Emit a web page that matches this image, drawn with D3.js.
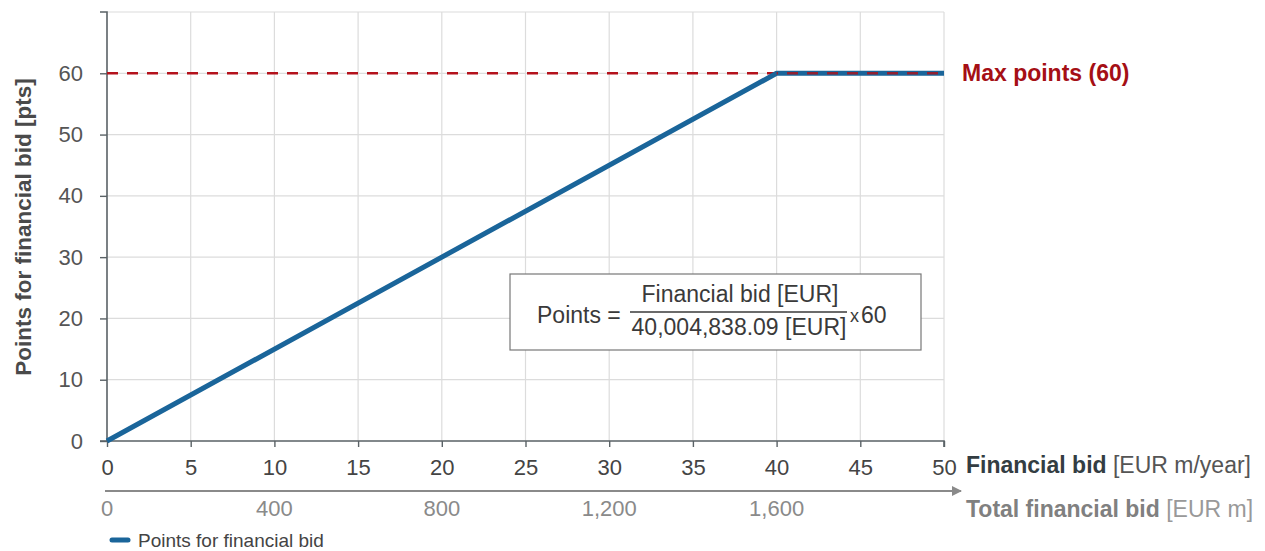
<!DOCTYPE html>
<html>
<head>
<meta charset="utf-8">
<script src="https://cdn.jsdelivr.net/npm/d3@7"></script>
<style>
  body { margin: 0; background: #fff; }
  svg { display: block; font-family: "Liberation Sans", Arial, sans-serif; }
</style>
</head>
<body>
<svg id="chart" width="1265" height="551"></svg>
<script>
// Scoring curve: points awarded for the annual financial bid
const bidTicks = [0, 5, 10, 15, 20, 25, 30, 35, 40, 45, 50];        // EUR m / year
const totalTicks = [0, 400, 800, 1200, 1600];                        // EUR m total
const pointTicks = [0, 10, 20, 30, 40, 50, 60];
const gridPoints = [0, 10, 20, 30, 40, 50, 60, 70];
const curveBid = [0, 40, 50];
const curvePoints = [0, 60, 60];
const maxPoints = 60;
const yearsTotal = 40;   // total bid = annual bid x 40

const svg = d3.select("#chart");
const x = d3.scaleLinear().domain([0, 50]).range([107, 944]);
const y = d3.scaleLinear().domain([0, 70]).range([441, 12]);
const FONT = "Liberation Sans, Arial, sans-serif";

// Gridlines
const grid = svg.append("g");
grid.selectAll("line.v").data(bidTicks.slice(1)).join("line")
  .attr("x1", d => x(d)).attr("x2", d => x(d))
  .attr("y1", y(70)).attr("y2", y(0))
  .attr("stroke", "#dcdcdc").attr("stroke-width", 1.2);
grid.selectAll("line.h").data(gridPoints.slice(1)).join("line")
  .attr("x1", x(0)).attr("x2", x(50))
  .attr("y1", d => y(d)).attr("y2", d => y(d))
  .attr("stroke", "#dcdcdc").attr("stroke-width", 1.2);

// Y axis
const yAxis = svg.append("g").attr("transform", `translate(${x(0)},0)`)
  .call(d3.axisLeft(y).tickValues(pointTicks).tickSize(7).tickPadding(17).tickFormat(d3.format("d")));
yAxis.select(".domain").attr("stroke", "#5a6266").attr("stroke-width", 1.6)
  .attr("d", `M-7,${y(70)}H0V${y(0)}`);
yAxis.selectAll(".tick line").attr("stroke", "#5a6266").attr("stroke-width", 1.4);
yAxis.selectAll(".tick text").attr("fill", "#555").style("font-size", "22px")
  .style("font-family", FONT);

// X axis (annual bid)
const xAxis = svg.append("g").attr("transform", `translate(0,${y(0)})`)
  .call(d3.axisBottom(x).tickValues(bidTicks).tickSize(6).tickPadding(12).tickFormat(d3.format("d")));
xAxis.select(".domain").attr("stroke", "#5a6266").attr("stroke-width", 1.6)
  .attr("d", `M${x(0) - 7},0H${x(50)}V6`);
xAxis.selectAll(".tick line").attr("stroke", "#5a6266").attr("stroke-width", 1.4);
xAxis.selectAll(".tick text").attr("fill", "#444").style("font-size", "22px")
  .style("font-family", FONT);

// Secondary axis (total bid) with arrow
const defs = svg.append("defs");
defs.append("marker").attr("id", "arrow").attr("viewBox", "0 0 10 10")
  .attr("refX", 9).attr("refY", 5).attr("markerWidth", 5).attr("markerHeight", 5)
  .attr("orient", "auto").attr("markerUnits", "strokeWidth")
  .append("path").attr("d", "M0,0L10,5L0,10Z").attr("fill", "#8a8a8a");
const y2 = 491;
svg.append("line").attr("x1", x(0) - 2).attr("x2", 961).attr("y1", y2).attr("y2", y2)
  .attr("stroke", "#8a8a8a").attr("stroke-width", 2).attr("marker-end", "url(#arrow)");
svg.append("g").selectAll("text").data(totalTicks).join("text")
  .attr("x", d => x(d / yearsTotal)).attr("y", 516)
  .attr("text-anchor", "middle").attr("fill", "#8a8a8a").style("font-size", "22px")
  .text(d => d3.format(",")(d));

// Max-points reference line
svg.append("line").attr("x1", x(0)).attr("x2", x(50))
  .attr("y1", y(maxPoints)).attr("y2", y(maxPoints))
  .attr("stroke", "#b4121c").attr("stroke-width", 2.6).attr("stroke-dasharray", "11,9");

// Points curve
const line = d3.line().x((d, i) => x(curveBid[i])).y(d => y(d));
svg.append("path").datum(curvePoints).attr("d", line)
  .attr("fill", "none").attr("stroke", "#1a659a").attr("stroke-width", 5)
  .attr("stroke-linejoin", "round");
// dashes stay visible on top of the flat segment
svg.append("line").attr("x1", x(40)).attr("x2", x(50))
  .attr("y1", y(maxPoints)).attr("y2", y(maxPoints))
  .attr("stroke", "#a8141e").attr("stroke-width", 2.4).attr("stroke-dasharray", "11,9")
  .attr("stroke-dashoffset", (x(40) - x(0)) % 20).attr("opacity", 0.85);

svg.append("text").attr("x", 962).attr("y", y(maxPoints) + 8)
  .attr("fill", "#a50f15").style("font-size", "23px").style("font-weight", "bold")
  .text(`Max points (${maxPoints})`);

// Axis titles
svg.append("text").attr("transform", `translate(31,227) rotate(-90)`)
  .attr("text-anchor", "middle").attr("fill", "#4a4a4a")
  .style("font-size", "22.5px").style("font-weight", "bold")
  .text("Points for financial bid [pts]");

const t1 = svg.append("text").attr("x", 966).attr("y", 473).attr("fill", "#333d42").style("font-size", "23px");
t1.append("tspan").style("font-weight", "bold").text("Financial bid");
t1.append("tspan").attr("fill", "#555").text(" [EUR m/year]");

const t2 = svg.append("text").attr("x", 966).attr("y", 517).attr("fill", "#808080").style("font-size", "23px");
t2.append("tspan").style("font-weight", "bold").text("Total financial bid");
t2.append("tspan").attr("fill", "#999").text(" [EUR m]");

// Formula box
const box = svg.append("g");
box.append("rect").attr("x", 510).attr("y", 274).attr("width", 411).attr("height", 76)
  .attr("fill", "#fff").attr("stroke", "#777").attr("stroke-width", 1.2);
box.append("text").attr("x", 537).attr("y", 323).attr("fill", "#3a3a3a").style("font-size", "23px")
  .text("Points =");
box.append("line").attr("x1", 630).attr("x2", 847).attr("y1", 312).attr("y2", 312)
  .attr("stroke", "#3a3a3a").attr("stroke-width", 1.5);
box.append("text").attr("x", 740).attr("y", 302).attr("text-anchor", "middle").attr("fill", "#3a3a3a")
  .style("font-size", "23px").text("Financial bid [EUR]");
box.append("text").attr("x", 739).attr("y", 335).attr("text-anchor", "middle").attr("fill", "#3a3a3a")
  .style("font-size", "23px").text("40,004,838.09 [EUR]");
box.append("text").attr("x", 850).attr("y", 322).attr("fill", "#3a3a3a").style("font-size", "18px").text("x");
box.append("text").attr("x", 861).attr("y", 323).attr("fill", "#3a3a3a").style("font-size", "23px").text(maxPoints);

// Legend
svg.append("line").attr("x1", 112).attr("x2", 128).attr("y1", 540).attr("y2", 540)
  .attr("stroke", "#1a659a").attr("stroke-width", 5).attr("stroke-linecap", "round");
svg.append("text").attr("x", 138).attr("y", 547).attr("fill", "#444").style("font-size", "19px")
  .text("Points for financial bid");
</script>
</body>
</html>
